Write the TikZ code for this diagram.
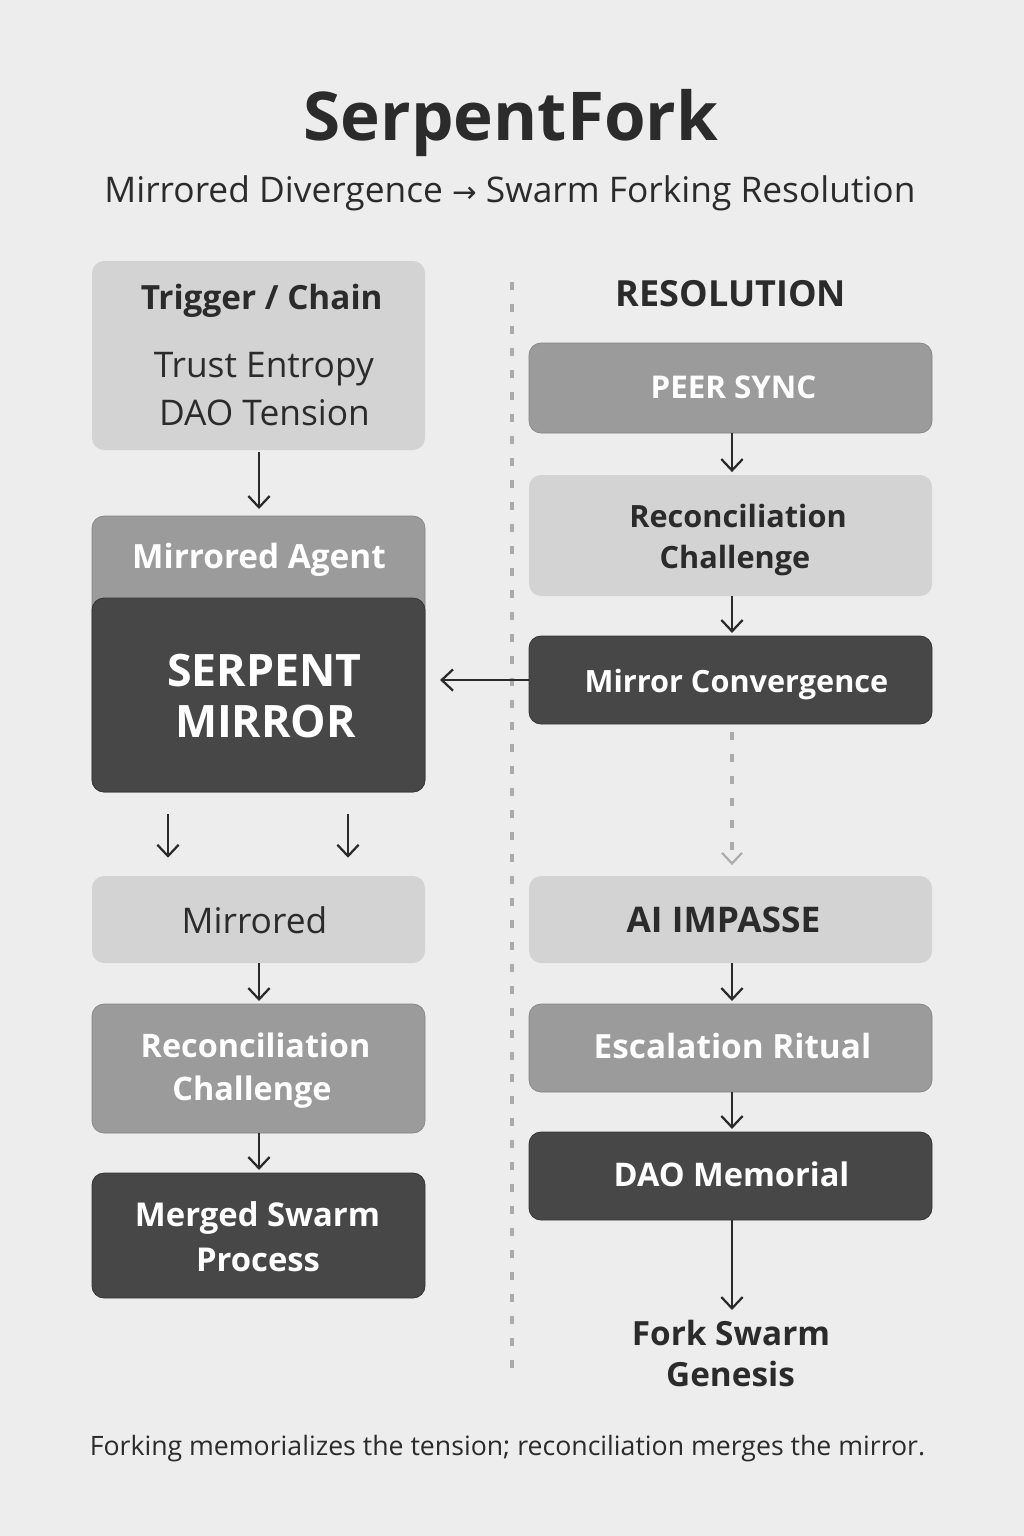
\documentclass[tikz,border=0pt]{standalone}
\usepackage{fontspec}
\setmainfont{Open Sans}
\newfontfamily\symfont{DejaVu Sans}
\usetikzlibrary{arrows.meta}
\definecolor{bg}{HTML}{EDEDED}
\definecolor{lightf}{HTML}{D3D3D3}
\definecolor{midf}{HTML}{9B9B9B}
\definecolor{darkf}{HTML}{474747}
\definecolor{ink}{HTML}{2B2B2B}
\definecolor{paleline}{HTML}{ABABAB}
\begin{document}
\begin{tikzpicture}[x=0.75pt,y=-0.75pt,
  boxbase/.style={rounded corners=9pt, inner sep=0pt},
  lw/.style={minimum width=249.75pt},
  rw/.style={minimum width=302.25pt},
  lightbox/.style={boxbase, fill=lightf},
  midbox/.style={boxbase, fill=midf, draw=midf!85!black, line width=0.5pt},
  darkbox/.style={boxbase, fill=darkf, draw=darkf!75!black, line width=0.6pt},
  lbl/.style={anchor=base, inner sep=0pt},
  darktxt/.style={lbl, text=ink},
  whitetxt/.style={lbl, text=white},
  fbold/.style={font=\fontsize{25}{30}\selectfont\bfseries},
  fbolds/.style={font=\fontsize{23}{28}\selectfont\bfseries},
  freg/.style={font=\fontsize{26.5}{32}\selectfont},
  arr/.style={draw=ink, line width=1.7pt, -{Straight Barb[length=8.5pt,width=16pt,line width=1.7pt]}},
  dasharr/.style={draw=paleline, line width=2.6pt, dash pattern=on 6pt off 10.5pt,
    -{Straight Barb[length=8pt,width=15pt,line width=1.6pt]}},
]
\fill[bg] (0,0) rectangle (1024,1536);
\useasboundingbox (0,0) rectangle (1024,1536);

% title
\node[darktxt, font=\fontsize{50.5}{60}\selectfont\bfseries] (title) at (511,140) {SerpentFork};
\node[darktxt, font=\fontsize{26.5}{32}\selectfont] (subtitle) at (510,202) {Mirrored Divergence {\symfont\fontsize{22}{26}\selectfont →} Swarm Forking Resolution};

% divider
\coordinate (d1) at (512,282);
\coordinate (d2) at (512,1373);
\draw[paleline, line width=2.6pt, dash pattern=on 6pt off 10.5pt] (d1) -- (d2);

% left column
\node[lightbox, lw, minimum height=141.75pt] (trigger) at (258.5,355.5) {};
\node[darktxt, fbold] (trigT) at (261.7,309) {Trigger / Chain};
\node[darktxt, freg] (trigA) at (263.8,377.5) {Trust Entropy};
\node[darktxt, freg] (trigB) at (264.5,425) {DAO Tension};

\node[midbox, lw, minimum height=207pt] (agent) at (258.5,654) {};
\node[whitetxt, fbold] (agentT) at (259,568) {Mirrored Agent};
\node[darkbox, lw, minimum height=145.5pt] (serpent) at (258.5,695) {};
\node[whitetxt, font=\fontsize{33.5}{40}\selectfont\bfseries] (serpA) at (264.5,686) {SERPENT};
\node[whitetxt, font=\fontsize{33.5}{40}\selectfont\bfseries] (serpB) at (265.5,737.5) {MIRROR};

\node[lightbox, lw, minimum height=65.25pt] (mirrored) at (258.5,919.5) {};
\node[darktxt, freg] (mirroredT) at (254.5,933) {Mirrored};

\node[midbox, lw, minimum height=96.75pt] (reconL) at (258.5,1068.5) {};
\node[whitetxt, font=\fontsize{24.3}{29}\selectfont\bfseries] (reconLA) at (255.5,1057) {Reconciliation};
\node[whitetxt, font=\fontsize{24.3}{29}\selectfont\bfseries] (reconLB) at (252,1100) {Challenge};

\node[darkbox, lw, minimum height=93.75pt] (merged) at (258.5,1235.5) {};
\node[whitetxt, font=\fontsize{24.6}{29}\selectfont\bfseries] (mergedA) at (257.5,1226) {Merged Swarm};
\node[whitetxt, font=\fontsize{24.6}{29}\selectfont\bfseries] (mergedB) at (258,1271) {Process};

% right column
\node[darktxt, font=\fontsize{27}{32}\selectfont\bfseries] (resolution) at (731,306) {RESOLUTION};

\node[midbox, rw, minimum height=67.5pt] (peer) at (730.5,388) {};
\node[whitetxt, font=\fontsize{23.5}{28}\selectfont\bfseries] (peerT) at (733.5,398) {PEER SYNC};

\node[lightbox, rw, minimum height=90.75pt] (reconR) at (730.5,535.5) {};
\node[darktxt, fbolds] (reconRA) at (738,527) {Reconciliation};
\node[darktxt, fbolds] (reconRB) at (735,568) {Challenge};

\node[darkbox, rw, minimum height=66pt] (conv) at (730.5,680) {};
\node[whitetxt, fbolds] (convT) at (736.5,692) {Mirror Convergence};

\node[lightbox, rw, minimum height=65.25pt] (impasse) at (730.5,919.5) {};
\node[darktxt, font=\fontsize{26.5}{32}\selectfont\bfseries] (impasseT) at (723.5,932) {AI IMPASSE};

\node[midbox, rw, minimum height=66pt] (escal) at (730.5,1048) {};
\node[whitetxt, fbold] (escalT) at (732.5,1058) {Escalation Ritual};

\node[darkbox, rw, minimum height=66pt] (memorial) at (730.5,1176) {};
\node[whitetxt, font=\fontsize{24.4}{29}\selectfont\bfseries] (memorialT) at (731.5,1186) {DAO Memorial};

\node[darktxt, fbold] (genA) at (731,1345) {Fork Swarm};
\node[darktxt, fbold] (genB) at (730.5,1386) {Genesis};
\coordinate (genTop) at (732,1310);

% footer
\node[darktxt, font=\fontsize{20}{24}\selectfont] (footer) at (507.5,1455) {Forking memorializes the tension; reconciliation merges the mirror.};

% connectors
\coordinate (lx) at (259,0);
\coordinate (rx) at (732,0);
\coordinate (c1) at (168,0);
\coordinate (c2) at (348,0);
\draw[arr, shorten <=1.5pt, shorten >=5pt] (trigger.south -| lx) -- (agent.north -| lx);
\draw[arr, shorten <=16.5pt, shorten >=13.5pt] (serpent.south -| c1) -- (mirrored.north -| c1);
\draw[arr, shorten <=16.5pt, shorten >=13.5pt] (serpent.south -| c2) -- (mirrored.north -| c2);
\draw[arr, shorten >=2pt] (mirrored.south -| lx) -- (reconL.north -| lx);
\draw[arr, shorten >=2pt] (reconL.south -| lx) -- (merged.north -| lx);

\draw[arr, shorten >=2pt] (peer.south -| rx) -- (reconR.north -| rx);
\draw[arr, shorten >=2pt] (reconR.south -| rx) -- (conv.north -| rx);
\draw[arr, shorten >=11pt] (conv.west) -- (conv.west -| serpent.east);
\draw[dasharr, shorten <=6pt, shorten >=8pt] (conv.south -| rx) -- (impasse.north -| rx);
\draw[arr, shorten >=2pt] (impasse.south -| rx) -- (escal.north -| rx);
\draw[arr, shorten >=2pt] (escal.south -| rx) -- (memorial.north -| rx);
\draw[arr] (memorial.south -| rx) -- (genTop -| rx);
\end{tikzpicture}
\end{document}
